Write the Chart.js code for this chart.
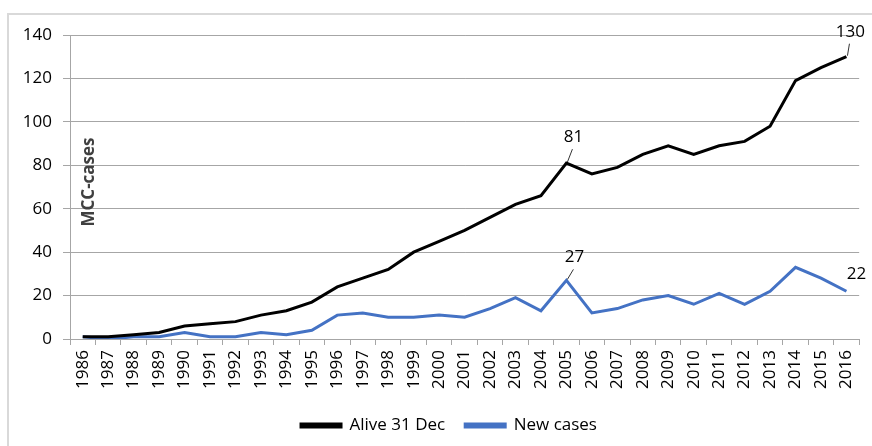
<!DOCTYPE html>
<html>
<head>
<meta charset="utf-8">
<script src="https://cdn.jsdelivr.net/npm/chart.js@4"></script>
<style>
    html, body { margin: 0; padding: 0; background: #fff; }
    #wrap { position: relative; width: 872px; height: 446px; overflow: hidden; }
    #frame { position: absolute; left: 7px; top: 13px; width: 880px; height: 450px; border: 2px solid #d9d9d9; box-sizing: border-box; }
    #chart { position: absolute; left: 0; top: 0; }
</style>
</head>
<body>
<div id="wrap">
    <div id="frame"></div>
    <canvas id="chart" width="872" height="446"></canvas>
</div>
<script>
// 数据
const years = ['1986', '1987', '1988', '1989', '1990', '1991', '1992', '1993', '1994', '1995', '1996',
    '1997', '1998', '1999', '2000', '2001', '2002', '2003', '2004', '2005', '2006', '2007', '2008',
    '2009', '2010', '2011', '2012', '2013', '2014', '2015', '2016'];
const aliveDec31 = [1, 1, 2, 3, 6, 7, 8, 11, 13, 17, 24, 28, 32, 40, 45, 50, 56, 62, 66, 81, 76, 79, 85,
    89, 85, 89, 91, 98, 119, 125, 130];
const newCases = [1, 0, 1, 1, 3, 1, 1, 3, 2, 4, 11, 12, 10, 10, 11, 10, 14, 19, 13, 27, 12, 14, 18,
    20, 16, 21, 16, 22, 33, 28, 22];
const seriesNames = ['Alive 31 Dec', 'New cases'];
const yTitle = 'MCC-cases';

const FONT = '"Open Sans", Lato, sans-serif';

// 标注：点旁边的数值
const callouts = [
    { ds: 0, idx: 19, dx: 7, dy: -26, leader: true },
    { ds: 0, idx: 30, dx: 4, dy: -25, leader: true },
    { ds: 1, idx: 19, dx: 8, dy: -23, leader: true },
    { ds: 1, idx: 30, dx: 10, dy: -17, leader: false }
];

const calloutPlugin = {
    id: 'callouts',
    afterDatasetsDraw(chart) {
        const ctx = chart.ctx;
        ctx.save();
        ctx.font = '17px ' + FONT;
        ctx.fillStyle = '#000';
        ctx.strokeStyle = '#000';
        ctx.lineWidth = 0.8;
        ctx.textAlign = 'center';
        ctx.textBaseline = 'middle';
        callouts.forEach(c => {
            const pt = chart.getDatasetMeta(c.ds).data[c.idx];
            const value = chart.data.datasets[c.ds].data[c.idx];
            const tx = pt.x + c.dx, ty = pt.y + c.dy;
            if (c.leader) {
                ctx.beginPath();
                ctx.moveTo(pt.x + 1, pt.y - 1);
                ctx.lineTo(tx - 1, ty + 12);
                ctx.stroke();
            }
            ctx.fillText(String(value), tx, ty);
        });
        ctx.restore();
    }
};

// 图内的纵轴标题
const yTitlePlugin = {
    id: 'yTitle',
    afterDraw(chart) {
        const ctx = chart.ctx;
        const area = chart.chartArea;
        ctx.save();
        ctx.translate(area.left + 19, 182);
        ctx.rotate(-Math.PI / 2);
        ctx.font = 'bold 17px ' + FONT;
        ctx.fillStyle = '#404040';
        ctx.textAlign = 'center';
        ctx.textBaseline = 'middle';
        ctx.fillText(yTitle, 0, 0);
        ctx.restore();
    }
};

// 图例稍微往右移
const legendShift = {
    id: 'legendShift',
    afterLayout(chart) {
        chart.legend.left += 18;
        chart.legend.right += 18;
    }
};

new Chart(document.getElementById('chart').getContext('2d'), {
    type: 'line',
    data: {
        labels: years,
        datasets: [
            { label: seriesNames[0], data: aliveDec31, borderColor: '#000000', backgroundColor: '#000000', borderWidth: 3, pointRadius: 0, tension: 0 },
            { label: seriesNames[1], data: newCases, borderColor: '#4472C4', backgroundColor: '#4472C4', borderWidth: 3, pointRadius: 0, tension: 0 }
        ]
    },
    options: {
        responsive: false,
        animation: false,
        layout: { padding: { top: 35, right: 10, bottom: 2, left: 0 } },
        scales: {
            x: {
                offset: true,
                grid: { offset: true, drawOnChartArea: false, drawTicks: true, tickLength: 6, color: '#a6a6a6' },
                border: { color: '#a6a6a6' },
                ticks: { maxRotation: 90, minRotation: 90, autoSkip: false, padding: 5, color: '#000', font: { family: FONT, size: 17 } },
                afterFit(scale) { scale.height = 58; }
            },
            y: {
                min: 0,
                max: 140,
                ticks: { stepSize: 20, padding: 11, color: '#000', font: { family: FONT, size: 17 } },
                grid: { color: '#a6a6a6', tickLength: 7 },
                border: { color: '#a6a6a6' },
                afterFit(scale) { scale.width = 70; }
            }
        },
        plugins: {
            legend: {
                position: 'bottom',
                labels: {
                    boxWidth: 40,
                    boxHeight: 3,
                    padding: 20,
                    color: '#000',
                    font: { family: FONT, size: 17 }
                }
            },
            tooltip: { enabled: false }
        }
    },
    plugins: [calloutPlugin, yTitlePlugin, legendShift]
});
</script>
</body>
</html>
